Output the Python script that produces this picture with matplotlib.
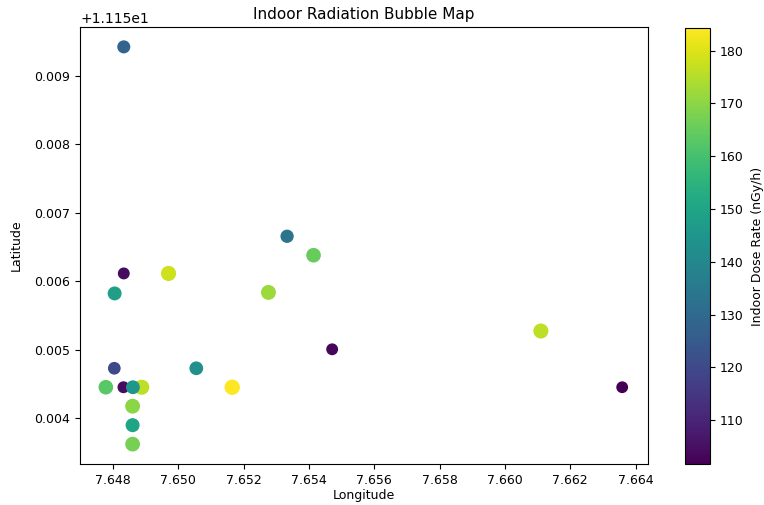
import matplotlib
matplotlib.use("Agg")
import matplotlib.pyplot as plt
import numpy as np

# sampling points (drawn in this order)
lon = [7.64833, 7.64833, 7.64805, 7.64970, 7.65333, 7.65414, 7.65276, 7.65471,
       7.65055, 7.65165, 7.66110, 7.66359, 7.64804, 7.64778, 7.64832, 7.64888,
       7.64861, 7.64860, 7.64860, 7.64860]
lat = [11.159423, 11.156114, 11.155822, 11.156114, 11.156657, 11.156380, 11.155837, 11.155006,
       11.154729, 11.154452, 11.155273, 11.154452, 11.154729, 11.154452, 11.154452, 11.154452,
       11.154452, 11.154175, 11.153898, 11.153621]
dose = [128, 104, 148, 178, 133, 165, 172, 103,
        143, 184, 176, 102, 120, 163, 104, 176,
        145, 170, 150, 167]

fig = plt.figure(figsize=(7.64, 5.05), dpi=100)
ax = fig.add_axes([80/764, 1-464/505, 568/764, 437/505])
cax = fig.add_axes([685/764, 1-464/505, 25/764, 436/505])

sc = ax.scatter(lon, lat, c=dose, s=np.array(dose)*0.55, cmap='viridis',
                vmin=101.7, vmax=184.3)
cb = fig.colorbar(sc, cax=cax)
cb.set_label('Indoor Dose Rate (nGy/h)', fontsize=9, labelpad=5)
cb.ax.tick_params(labelsize=9)

ax.set_title('Indoor Radiation Bubble Map', fontsize=11)
ax.set_xlabel('Longitude', fontsize=9, labelpad=2)
ax.set_ylabel('Latitude', fontsize=9, labelpad=8)
ax.tick_params(labelsize=9)
ax.set_xticks(np.arange(7.648, 7.6641, 0.002))

fig.savefig('out.png', dpi=100)
